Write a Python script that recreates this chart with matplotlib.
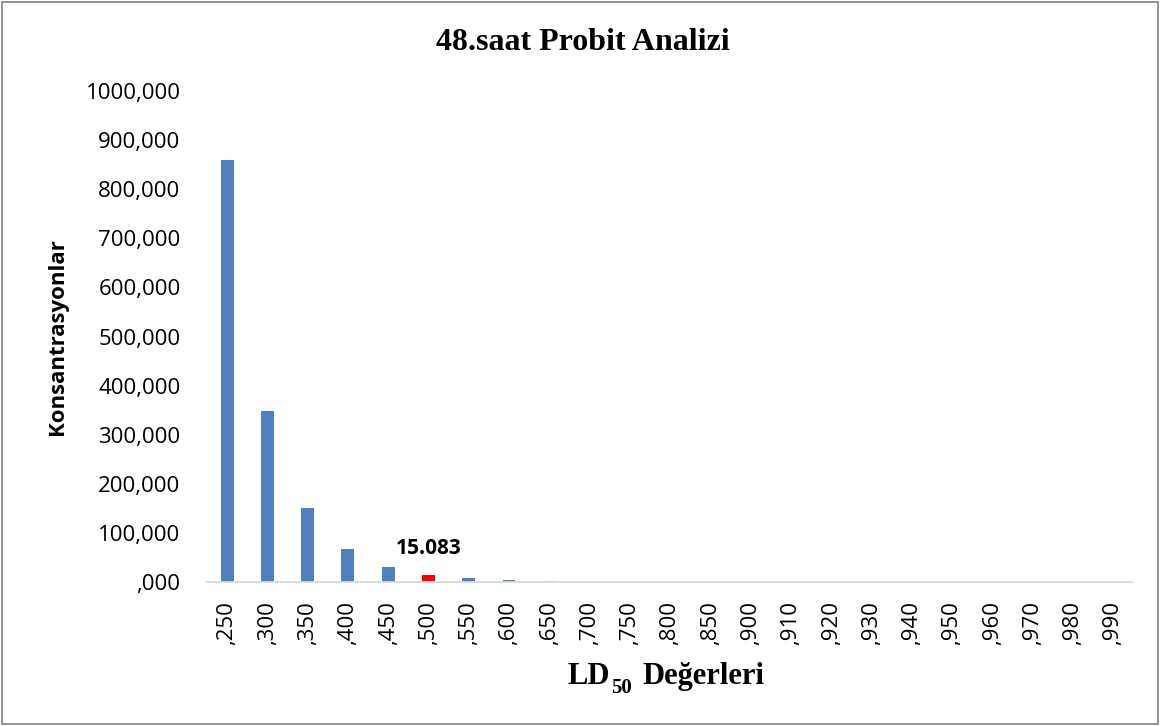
import matplotlib.pyplot as plt
from matplotlib.patches import Rectangle

# LD50 probit levels and concentration values
categories = [",250", ",300", ",350", ",400", ",450", ",500", ",550", ",600", ",650", ",700",
              ",750", ",800", ",850", ",900", ",910", ",920", ",930", ",940", ",950", ",960",
              ",970", ",980", ",990"]
values = [859.0, 348.0, 151.0, 68.0, 31.5, 15.083, 7.2, 3.4, 1.5, 0.7,
          0.3, 0.15, 0.06, 0.02, 0.015, 0.01, 0.008, 0.006, 0.004, 0.003,
          0.002, 0.001, 0.0005]
highlight = ",500"
y_ticks = [0, 100, 200, 300, 400, 500, 600, 700, 800, 900, 1000]
y_labels = [",000", "100,000", "200,000", "300,000", "400,000", "500,000",
            "600,000", "700,000", "800,000", "900,000", "1000,000"]

fig = plt.figure(figsize=(11.6, 7.26), dpi=100)
ax = fig.add_axes([0.1784, 0.1983, 0.7974, 0.6764])

colors = ['#FF0000' if c == highlight else '#4F81BD' for c in categories]
x = list(range(len(categories)))
ax.bar(x, values, width=0.32, color=colors)

# label on the highlighted bar
i = categories.index(highlight)
ax.annotate(f"{values[i]:.3f}", (x[i], values[i]), xytext=(0, 11), textcoords='offset points',
            ha='center', va='bottom', fontsize=15, fontweight='bold', family='Open Sans')

ax.set_xlim(-0.5, len(categories) - 0.53)
ax.set_ylim(0, 1000)
ax.set_yticks(y_ticks)
ax.set_yticklabels(y_labels, fontsize=16, family='Open Sans')
ax.set_xticks(x)
ax.set_xticklabels(categories, rotation=90, fontsize=16, family='Open Sans')
ax.tick_params(axis='y', length=0, pad=19)
ax.tick_params(axis='x', length=0, pad=14)

for s in ['top', 'right', 'left']:
    ax.spines[s].set_visible(False)
ax.spines['bottom'].set_color('#D9D9D9')
ax.spines['bottom'].set_linewidth(1.3)

fig.text(57 / 1160, 1 - 337 / 726, "Konsantrasyonlar", rotation=90, ha='center', va='center',
         fontsize=16, fontweight='bold', family='Open Sans')

# x label "LD50 Değerleri" with a bold subscript, built from three pieces
serif = dict(fontweight='bold', family='Liberation Serif', annotation_clip=False)
t1 = fig.text(568 / 1160, 1 - 691 / 726, "LD", ha='left', va='bottom', fontsize=22,
              fontweight='bold', family='Liberation Serif')
t2 = ax.annotate("50", xy=(1, 0), xycoords=t1, xytext=(0.3, -1.5), textcoords='offset points',
                 ha='left', va='baseline', fontsize=15, **serif)
ax.annotate("Değerleri", xy=(1, 0), xycoords=(t2, t1), xytext=(8, 0), textcoords='offset points',
            ha='left', va='bottom', fontsize=22, **serif)

fig.text(583 / 1160, 1 - 50 / 726, "48.saat Probit Analizi", ha='center', va='baseline',
         fontsize=23, fontweight='bold', family='Liberation Serif')

# chart frame
fig.patches.append(Rectangle((0.002, 0.003), 0.996, 0.994, transform=fig.transFigure,
                             fill=False, edgecolor='#8C8C8C', linewidth=1.3))

fig.savefig("out.png", dpi=100)
